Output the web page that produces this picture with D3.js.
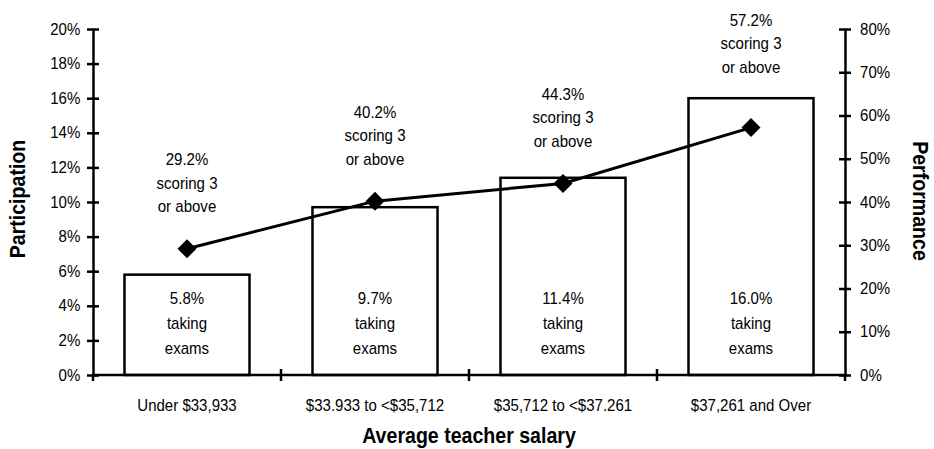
<!DOCTYPE html>
<html>
<head>
<meta charset="utf-8">
<script src="https://cdn.jsdelivr.net/npm/d3@7"></script>
<style>
  html, body { margin: 0; padding: 0; background: #fff; }
  svg { display: block; font-family: "Liberation Sans", Arial, Helvetica, sans-serif; }
</style>
</head>
<body>
<svg id="chart" width="934" height="449"></svg>
<script>
// Salary brackets and the two measures per bracket
const categories = ["Under $33,933", "$33.933 to <$35,712", "$35,712 to <$37.261", "$37,261 and Over"];
const participation = [0.058, 0.097, 0.114, 0.160];   // share of students taking exams
const performance = [0.292, 0.402, 0.443, 0.572];     // share scoring 3 or above
const leftTicks = [0, 0.02, 0.04, 0.06, 0.08, 0.10, 0.12, 0.14, 0.16, 0.18, 0.20];
const rightTicks = [0, 0.1, 0.2, 0.3, 0.4, 0.5, 0.6, 0.7, 0.8];

const svg = d3.select("#chart");
const plotLeft = 93, plotRight = 845, plotTop = 29, plotBottom = 375;

const x = d3.scaleBand().domain(categories).range([plotLeft, plotRight])
  .paddingInner(0.335).paddingOuter(0.1675);
const yL = d3.scaleLinear().domain([0, 0.20]).range([plotBottom, plotTop]);
const yR = d3.scaleLinear().domain([0, 0.80]).range([plotBottom, plotTop]);
const pct0 = d3.format(".0%");
const pct1 = d3.format(".1%");

// Slightly condensed type, narrow-face look
const FS = 16, SX = 0.94;
const TFS = 22, TSX = 0.89;
function label(parent, px, py, txt, opts = {}) {
  const rot = opts.rotate || 0;
  return parent.append("text")
    .attr("transform", `translate(${px},${py}) rotate(${rot}) scale(${opts.sx || SX},1)`)
    .attr("text-anchor", opts.anchor || "middle")
    .attr("font-size", opts.size || FS)
    .attr("font-weight", opts.weight || "normal")
    .attr("fill", "#000")
    .text(txt);
}

// Bars (participation)
svg.append("g").selectAll("rect").data(categories).join("rect")
  .attr("x", d => x(d))
  .attr("y", (d, i) => yL(participation[i]))
  .attr("width", x.bandwidth())
  .attr("height", (d, i) => plotBottom - yL(participation[i]))
  .attr("fill", "#fff").attr("stroke", "#000").attr("stroke-width", 2.5);

// Labels inside bars, anchored near the baseline
const inner = svg.append("g");
categories.forEach((c, i) => {
  const cx = x(c) + x.bandwidth() / 2;
  [pct1(participation[i]), "taking", "exams"].forEach((t, k) => {
    label(inner, cx, 304 + k * 25, t);
  });
});

// Axes
const axisStyle = g => {
  g.select(".domain").attr("stroke", "#000").attr("stroke-width", 2.5);
  g.selectAll(".tick line").attr("stroke", "#000").attr("stroke-width", 2.5);
  g.selectAll(".tick text").attr("font-size", FS).attr("fill", "#000")
    .attr("font-family", "'Liberation Sans', Arial, sans-serif")
    .attr("transform", `scale(${SX},1)`);
};

const gL = svg.append("g").attr("transform", `translate(${plotLeft},0)`)
  .call(d3.axisLeft(yL).tickValues(leftTicks).tickFormat(pct0).tickSizeInner(6).tickSizeOuter(0).tickPadding(7.5));
gL.selectAll(".tick line").attr("x2", 6).attr("x1", -6);
axisStyle(gL);

const gR = svg.append("g").attr("transform", `translate(${plotRight},0)`)
  .call(d3.axisRight(yR).tickValues(rightTicks).tickFormat(pct0).tickSizeInner(6).tickSizeOuter(0).tickPadding(10));
gR.selectAll(".tick line").attr("x1", -6).attr("x2", 6);
axisStyle(gR);

// Category axis: ticks at bracket boundaries, labels centred under bars
const xAxis = svg.append("g");
xAxis.append("line").attr("x1", plotLeft - 1).attr("x2", plotRight + 1).attr("y1", plotBottom).attr("y2", plotBottom)
  .attr("stroke", "#000").attr("stroke-width", 2.5);
const bounds = categories.slice(1).map(c => x(c) - x.step() * x.paddingInner() / 2);
xAxis.selectAll("line.b").data(bounds).join("line").attr("class", "b")
  .attr("x1", d => d).attr("x2", d => d).attr("y1", plotBottom - 6).attr("y2", plotBottom + 6)
  .attr("stroke", "#000").attr("stroke-width", 2.5);
[plotLeft, plotRight].forEach(e => {
  xAxis.append("line").attr("x1", e).attr("x2", e).attr("y1", plotBottom).attr("y2", plotBottom + 6)
    .attr("stroke", "#000").attr("stroke-width", 2.5);
});
categories.forEach(c => label(xAxis, x(c) + x.bandwidth() / 2, 411, c));

// Performance line with diamond markers
const px = c => x(c) + x.bandwidth() / 2;
const line = d3.line().x((d, i) => px(categories[i])).y(d => yR(d));
svg.append("path").datum(performance).attr("d", line)
  .attr("fill", "none").attr("stroke", "#000").attr("stroke-width", 3);
const dr = 9.5;
svg.append("g").selectAll("path").data(performance).join("path")
  .attr("d", (d, i) => {
    const cx = px(categories[i]), cy = yR(d);
    return `M${cx},${cy - dr}L${cx + dr},${cy}L${cx},${cy + dr}L${cx - dr},${cy}Z`;
  })
  .attr("fill", "#000");

// Labels above points, kept clear of both the marker and the bar top
const outer = svg.append("g");
categories.forEach((c, i) => {
  const cx = px(c);
  const lastCenter = Math.min(yR(performance[i]) - 42, yL(participation[i]) - 31);
  [pct1(performance[i]), "scoring 3", "or above"].forEach((t, k) => {
    label(outer, cx, lastCenter - (2 - k) * 23.5 + 5.5, t);
  });
});

// Axis titles
const titles = svg.append("g");
label(titles, 25, 199, "Participation", { rotate: -90, size: TFS, sx: TSX, weight: "bold" });
label(titles, 913, 201, "Performance", { rotate: 90, size: TFS, sx: TSX, weight: "bold" });
label(titles, 469, 443, "Average teacher salary", { size: TFS, sx: TSX, weight: "bold" });
</script>
</body>
</html>
